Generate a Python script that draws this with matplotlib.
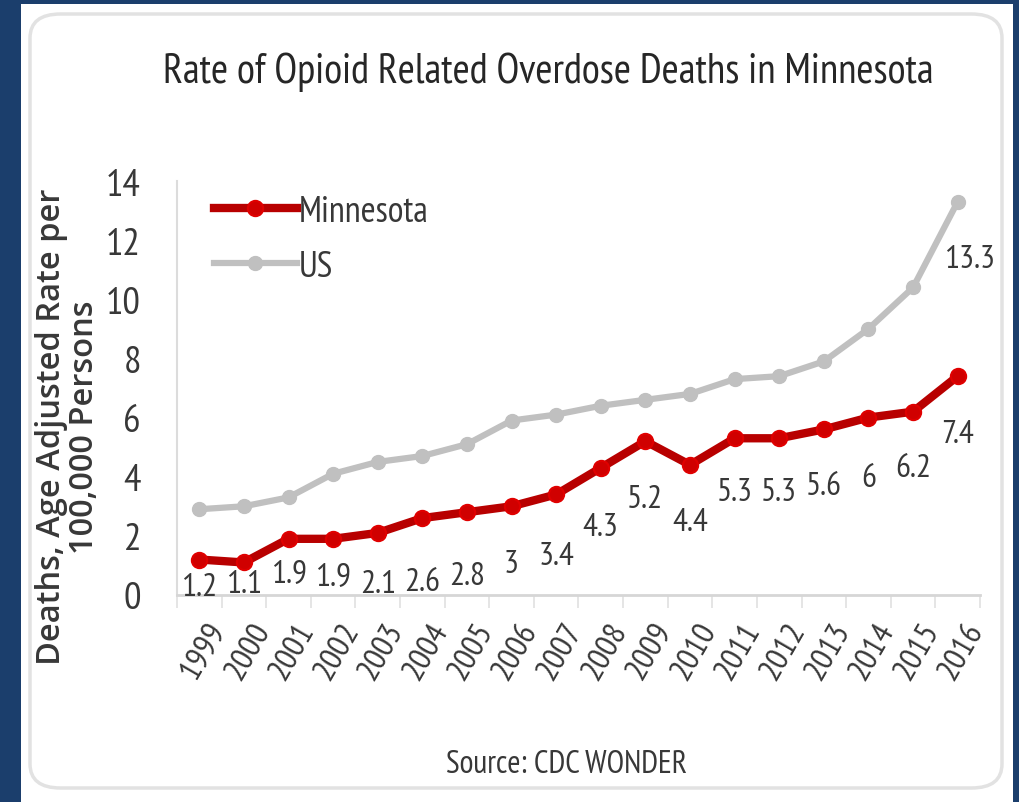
import numpy as np
import matplotlib
matplotlib.use("Agg")
import matplotlib.pyplot as plt
from matplotlib.patches import Rectangle, FancyBboxPatch
from matplotlib.transforms import ScaledTranslation

years = [str(y) for y in range(1999, 2017)]
minnesota = [1.2, 1.1, 1.9, 1.9, 2.1, 2.6, 2.8, 3.0, 3.4, 4.3, 5.2, 4.4, 5.3, 5.3, 5.6, 6.0, 6.2, 7.4]
mn_labels = ["1.2", "1.1", "1.9", "1.9", "2.1", "2.6", "2.8", "3", "3.4", "4.3",
             "5.2", "4.4", "5.3", "5.3", "5.6", "6", "6.2", "7.4"]
us = [2.9, 3.0, 3.3, 4.1, 4.5, 4.7, 5.1, 5.9, 6.1, 6.4, 6.6, 6.8, 7.3, 7.4, 7.9, 9.0, 10.4, 13.3]
us_last_label = "13.3"

# how far (px) each MN data label sits under its point, as excel put them
mn_label_drop = [27, 22, 35, 38, 51, 64, 64, 58, 62, 59, 58, 57, 54, 54, 57, 60, 56, 58]

NAVY = "#1b3e6c"
TXT = "#383838"
RED = "#b80000"
GRAY = "#c0c0c0"
narrow = ["PT Sans Narrow", "Archivo Narrow", "Roboto Condensed", "DejaVu Sans"]

plt.rcParams["font.family"] = narrow

fig = plt.figure(figsize=(10.2, 8.03), dpi=100)
fig.patch.set_facecolor(NAVY)

# white card + faint rounded frame
fig.patches.append(Rectangle((21 / 1020, 0), (1013 - 21) / 1020, 1 - 5 / 803,
                             transform=fig.transFigure, facecolor="white",
                             edgecolor="none", zorder=-10))
fig.patches.append(FancyBboxPatch((30 / 1020, 14 / 803), (1002 - 30) / 1020, (788 - 14) / 803,
                                  boxstyle="round,pad=0,rounding_size=0.03",
                                  transform=fig.transFigure, facecolor="none",
                                  edgecolor="#e2e2e2", linewidth=2.5, zorder=-9))

ax = fig.add_axes([177 / 1020, 1 - 596 / 803, (980 - 177) / 1020, (596 - 182) / 803])
ax.set_facecolor("none")
x = np.arange(len(years))

ax.plot(x, us, color=GRAY, lw=4.5, marker="o", ms=10, mec=GRAY, mfc=GRAY,
        label="US", zorder=3)
ax.plot(x, minnesota, color=RED, lw=6, marker="o", ms=11, mec="#e00000", mfc="#d00000",
        mew=1.5, label="Minnesota", zorder=4)

for i, (v, lab) in enumerate(zip(minnesota, mn_labels)):
    ax.annotate(lab, (x[i], v), xytext=(0, -mn_label_drop[i] * 0.72),
                textcoords="offset points", ha="center", va="center",
                fontsize=24, color=TXT, zorder=5)
ax.annotate(us_last_label, (x[-1], us[-1]), xytext=(12 * 0.72, -57 * 0.72),
            textcoords="offset points", ha="center", va="center",
            fontsize=24, color=TXT, zorder=5)

ax.set_xlim(-0.5, len(years) - 0.5)
ax.set_ylim(0, 14)
ax.set_yticks(range(0, 15, 2))
ax.set_xticks(x)
ax.set_xticklabels(years)
ax.set_xticks(np.arange(-0.5, len(years), 1), minor=True)
ax.tick_params(axis="y", length=0, labelsize=28, labelcolor=TXT, pad=26)
ax.tick_params(axis="x", which="major", length=0, labelsize=24, labelcolor=TXT, pad=16)
ax.tick_params(axis="x", which="minor", length=9, width=1.2, color="#e0e0e0")
for lbl in ax.get_xticklabels():
    lbl.set_rotation(60)
    lbl.set_ha("right")
    lbl.set_rotation_mode("anchor")
    lbl.set_transform(lbl.get_transform() + ScaledTranslation(0.06, 0, fig.dpi_scale_trans))

for s in ["top", "right"]:
    ax.spines[s].set_visible(False)
ax.spines["left"].set_color("#dcdcdc")
ax.spines["left"].set_linewidth(1.5)
ax.spines["bottom"].set_color("#d6d6d6")
ax.spines["bottom"].set_linewidth(2)

h, l = ax.get_legend_handles_labels()
ax.legend(h[::-1], l[::-1], loc="upper left", bbox_to_anchor=(0.005, 1.045), frameon=False,
          fontsize=26, handlelength=2.3, handletextpad=0.05, labelspacing=0.6,
          labelcolor=TXT)

fig.text(548 / 1020, 1 - 72 / 803, "Rate of Opioid Related Overdose Deaths in Minnesota",
         ha="center", va="center", fontsize=30, color="#262626")
fig.text(68 / 1020, 1 - 427 / 803, "Deaths, Age Adjusted Rate per\n100,000 Persons",
         ha="center", va="center", rotation=90, multialignment="center",
         fontsize=23.5, color=TXT, family=["Open Sans", "DejaVu Sans"], fontweight="semibold",
         linespacing=1.0)
fig.text(566 / 1020, 1 - 765 / 803, "Source: CDC WONDER",
         ha="center", va="center", fontsize=23, color=TXT)

fig.savefig("out.png", dpi=100, facecolor=fig.get_facecolor())
